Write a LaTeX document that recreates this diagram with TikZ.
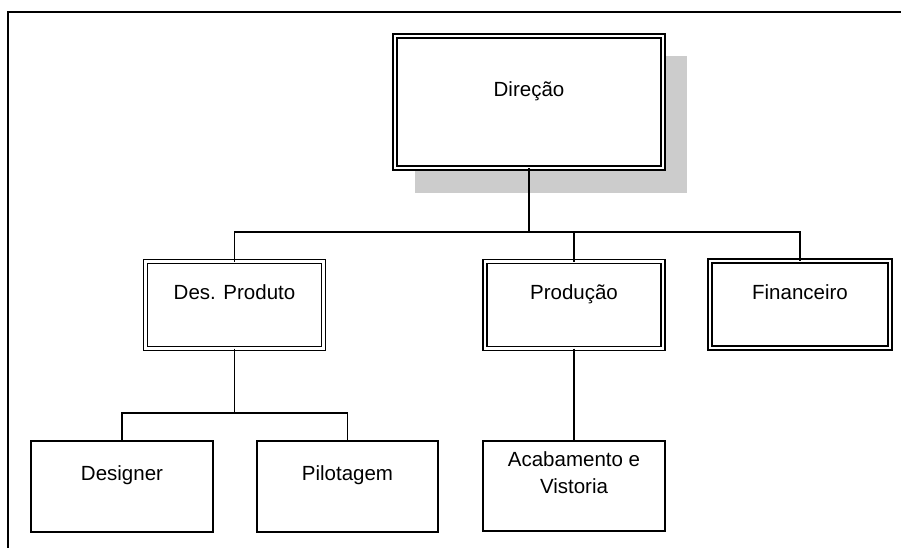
\documentclass[tikz,border=0pt]{standalone}
\usepackage{fontspec}
\setmainfont{Liberation Sans}
\definecolor{shadegray}{RGB}{204,204,204}
\begin{document}
\begin{tikzpicture}[x=1pt,y=-1pt,line width=1.5pt,
  dbox/.style={draw,double,double distance=2.4pt,fill=white,inner sep=0pt,outer sep=0pt,minimum width=178pt,minimum height=87pt},
  sbox/.style={draw,fill=white,inner sep=0pt,outer sep=0pt,minimum width=182pt,minimum height=91pt},
  lbl/.style={anchor=base,inner sep=0pt,font=\fontsize{20.5}{27}\selectfont,align=center}]
\useasboundingbox (0,0) rectangle (901,547);
% frame
\draw (8,560) -- (8,12) -- (910,12);
% shadow of top box
\fill[shadegray] (415,56) rectangle (687,193);
% boxes
\node[dbox,minimum width=268pt,minimum height=132pt] (dir) at (529,102) {};
\node[dbox] (desp) at (234.5,305) {};
\node[dbox] (prod) at (574,305) {};
\node[dbox,minimum width=180pt] (fin) at (800,304.5) {};
\node[sbox] (des) at (122,486.5) {};
\node[sbox,minimum width=181pt] (pil) at (347.5,486.5) {};
\node[sbox,minimum height=90pt] (aca) at (574,486) {};
% connectors
\coordinate (b1) at (529,232);
\draw (dir.south) -- (b1);
\draw (desp.north) |- (b1) -| (fin.north);
\draw (prod.north) -- (prod.north |- b1);
\coordinate (b2) at (234.5,413);
\draw (desp.south) -- (b2);
\draw (des.north) |- (b2) -| (pil.north);
\draw (prod.south) -- (aca.north);
% labels
\node[lbl] (tdir) at (529,96) {Direção};
\node[lbl] (tdesp) at (234.5,299) {Des. Produto};
\node[lbl] (tprod) at (574,299) {Produção};
\node[lbl] (tfin) at (800,299) {Financeiro};
\node[lbl] (tdes) at (122,480) {Designer};
\node[lbl] (tpil) at (347.5,480) {Pilotagem};
\node[lbl] (taca) at (574,493) {Acabamento e\\Vistoria};
\end{tikzpicture}
\end{document}
